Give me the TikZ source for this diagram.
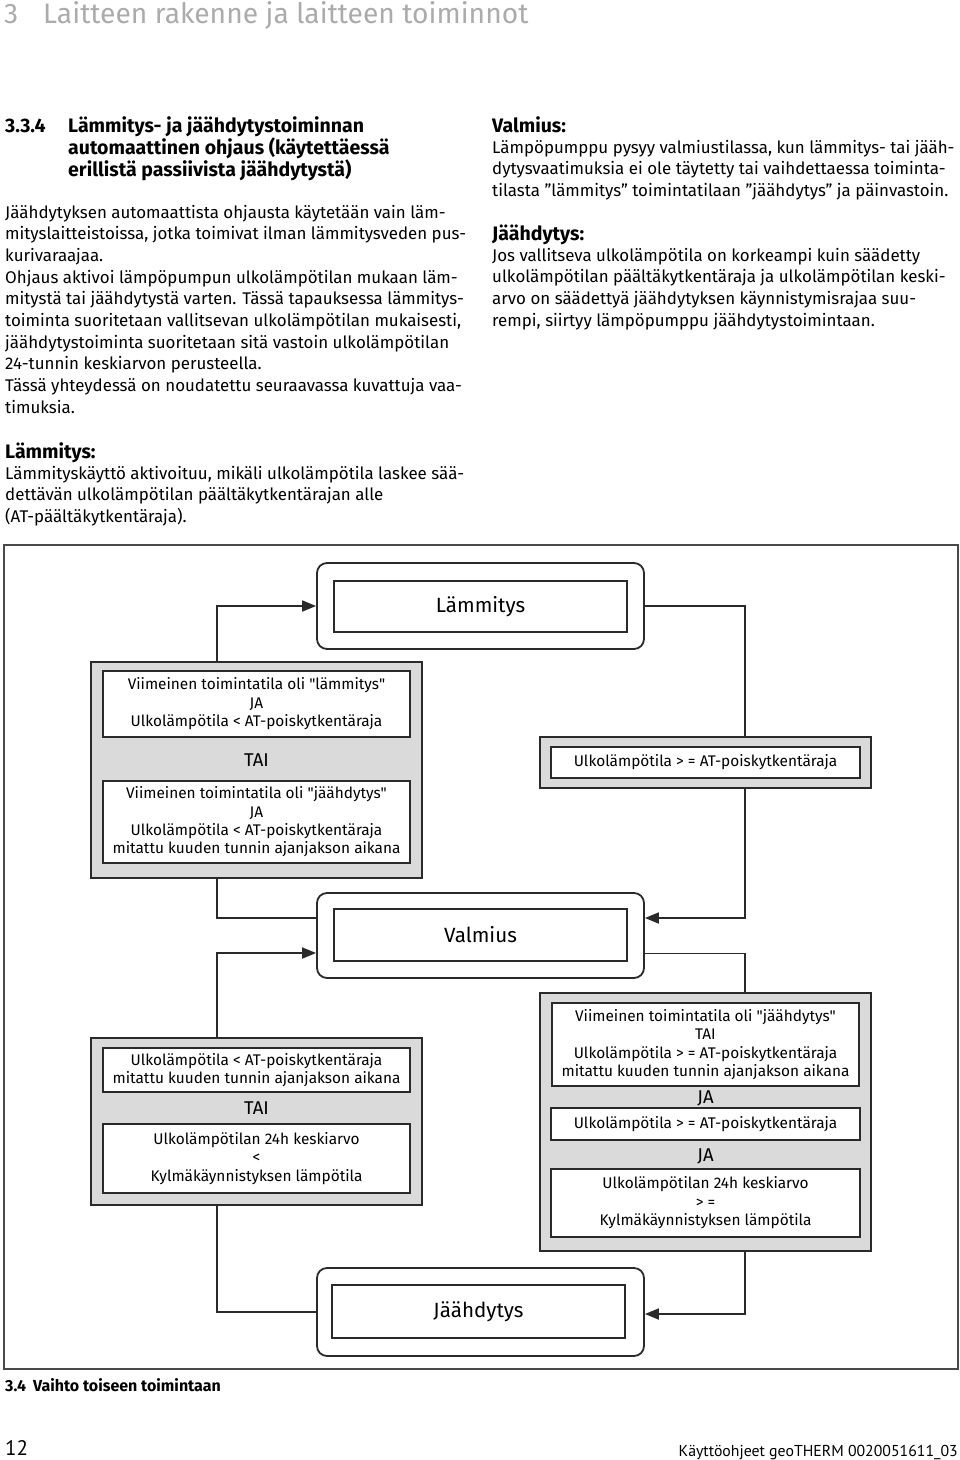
\documentclass[tikz,border=0pt]{standalone}
\usepackage{fontspec}
\setmainfont{Fira Sans}
\newfontfamily\ptsans{PT Sans}
\usetikzlibrary{arrows.meta,calc}
\definecolor{boxgray}{HTML}{DADADA}
\definecolor{linecol}{HTML}{2A2A2A}
\definecolor{titlegray}{HTML}{ABABAB}
\newcommand\qq{\textquotedbl}
\newcommand\textlines[6]{% style, prefix, x, y, skip, list
  \foreach \ln [count=\i] in {#6} {\node[anchor=base west, inner sep=0, #1] (#2\i) at (#3, {#4+(\i-1)*#5}) {\ln};}}
\begin{document}
\begin{tikzpicture}[x=1pt,y=-1pt,
  body/.style={font=\fontsize{16.9}{20}\selectfont},
  headb/.style={font=\fontsize{19.5}{22}\selectfont\bfseries},
  dtext/.style={font=\fontsize{15.4}{18.4}\selectfont},
  outerbox/.style={draw=linecol, line width=1.8pt, rounded corners=10pt, fill=white},
  innerbox/.style={draw=linecol, line width=1.8pt, fill=white, inner sep=0pt, align=center, font=\fontsize{20.6}{24}\selectfont},
  graybox/.style={draw=linecol, line width=1.8pt, fill=boxgray, inner sep=0pt},
  condbox/.style={draw=linecol, line width=1.8pt, fill=white, inner sep=0pt, align=center, dtext},
  joint/.style={font=\fontsize{18.5}{20}\selectfont, inner sep=0pt},
  conn/.style={draw=linecol, line width=1.8pt},
  arr/.style={conn, -{Triangle[length=14pt,width=11pt]}}]
\useasboundingbox (0,0) rectangle (960,1460);

% page header
\node[anchor=base west, inner sep=0, text=titlegray, font=\fontsize{28.2}{30}\selectfont] (titlenum) at (4,23) {3};
\node[anchor=base west, inner sep=0, text=titlegray, font=\fontsize{28.2}{30}\selectfont] (title) at (43,23) {Laitteen rakenne ja laitteen toiminnot};

\node[anchor=base west, inner sep=0, headb] (secnum) at (5,132) {3.3.4};
\textlines{headb}{h}{68}{132}{22}{{Lämmitys- ja jäähdytystoiminnan},{automaattinen ohjaus (käytettäessä},{erillistä passiivista jäähdytystä)}}

% left column
\textlines{body}{p}{5}{218}{21.7}{{Jäähdytyksen automaattista ohjausta käytetään vain läm-},{mityslaitteistoissa, jotka toimivat ilman lämmitysveden pus-},{kurivaraajaa.},{Ohjaus aktivoi lämpöpumpun ulkolämpötilan mukaan läm-},{mitystä tai jäähdytystä varten. Tässä tapauksessa lämmitys-},{toiminta suoritetaan vallitsevan ulkolämpötilan mukaisesti,},{jäähdytystoiminta suoritetaan sitä vastoin ulkolämpötilan},{24-tunnin keskiarvon perusteella.},{Tässä yhteydessä on noudatettu seuraavassa kuvattuja vaa-},{timuksia.}}
\node[anchor=base west, inner sep=0, headb] (lamhead) at (5,458) {Lämmitys:};
\textlines{body}{l}{5}{479}{21.7}{{Lämmityskäyttö aktivoituu, mikäli ulkolämpötila laskee sää-},{dettävän ulkolämpötilan päältäkytkentärajan alle},{(AT-päältäkytkentäraja).}}

% right column
\node[anchor=base west, inner sep=0, headb] (valhead) at (492,132) {Valmius:};
\textlines{body}{v}{492}{153}{21.7}{{Lämpöpumppu pysyy valmiustilassa, kun lämmitys- tai jääh-},{dytysvaatimuksia ei ole täytetty tai vaihdettaessa toiminta-},{tilasta ”lämmitys” toimintatilaan ”jäähdytys” ja päinvastoin.}}
\node[anchor=base west, inner sep=0, headb] (jaahead) at (492,240) {Jäähdytys:};
\textlines{body}{j}{492}{261}{21.7}{{Jos vallitseva ulkolämpötila on korkeampi kuin säädetty},{ulkolämpötilan päältäkytkentäraja ja ulkolämpötilan keski-},{arvo on säädettyä jäähdytyksen käynnistymisrajaa suu-},{rempi, siirtyy lämpöpumppu jäähdytystoimintaan.}}

% diagram frame
\draw[draw=linecol!85, line width=1.4pt] (4,545) rectangle (958,1369);

% coordinates of vertical connector runs
\coordinate (lx) at (217,0);
\coordinate (rx) at (745,0);

% state boxes
\node[outerbox, minimum width=327pt, minimum height=86pt] (heatO) at (480.5,606) {};
\node[innerbox, minimum width=293pt, minimum height=51pt] (heatI) at (480.5,606.5) {Lämmitys};
\node[outerbox, minimum width=327pt, minimum height=85pt] (valmO) at (480.5,935.5) {};
\node[innerbox, minimum width=293pt, minimum height=52pt] (valmI) at (480.5,935) {Valmius};
\node[outerbox, minimum width=327pt, minimum height=88pt] (coolO) at (480.5,1312) {};
\node[innerbox, minimum width=293pt, minimum height=53pt] (coolI) at (478.5,1311.5) {Jäähdytys};

% condition groups
\node[graybox, minimum width=331pt, minimum height=216pt] (g1) at (256.5,770) {};
\node[condbox, minimum width=307pt, minimum height=66pt] (b1) at (256.5,704) {Viimeinen toimintatila oli \qq lämmitys\qq\\JA\\Ulkolämpötila < AT-poiskytkentäraja};
\node[joint] (tai1) at (256.5,760) {TAI};
\node[condbox, minimum width=307pt, minimum height=82pt] (b2) at (256.5,822) {Viimeinen toimintatila oli \qq jäähdytys\qq\\JA\\Ulkolämpötila < AT-poiskytkentäraja\\mitattu kuuden tunnin ajanjakson aikana};

\node[graybox, minimum width=331pt, minimum height=51pt] (g2) at (705.5,762.5) {};
\node[condbox, minimum width=309pt, minimum height=31pt] (b3) at (705.5,762.5) {Ulkolämpötila > = AT-poiskytkentäraja};

\node[graybox, minimum width=331pt, minimum height=167pt] (g3) at (256.5,1121.5) {};
\node[condbox, minimum width=307pt, minimum height=44pt] (b4) at (256.5,1070) {Ulkolämpötila < AT-poiskytkentäraja\\mitattu kuuden tunnin ajanjakson aikana};
\node[joint] (tai2) at (256.5,1108) {TAI};
\node[condbox, minimum width=307pt, minimum height=69pt] (b5) at (256.5,1158.5) {Ulkolämpötilan 24h keskiarvo\\<\\Kylmäkäynnistyksen lämpötila};

\node[graybox, minimum width=331pt, minimum height=258pt] (g4) at (705.5,1122) {};
\node[condbox, minimum width=307pt, minimum height=83pt] (b6) at (705.5,1044.5) {Viimeinen toimintatila oli \qq jäähdytys\qq\\TAI\\Ulkolämpötila > = AT-poiskytkentäraja\\mitattu kuuden tunnin ajanjakson aikana};
\node[joint] (ja1) at (705.5,1098) {JA};
\node[condbox, minimum width=309pt, minimum height=32pt] (b7) at (705.5,1124) {Ulkolämpötila > = AT-poiskytkentäraja};
\node[joint] (ja2) at (705.5,1156) {JA};
\node[condbox, minimum width=309pt, minimum height=68pt] (b8) at (705.5,1203) {Ulkolämpötilan 24h keskiarvo\\> =\\Kylmäkäynnistyksen lämpötila};

% connectors
\draw[arr] (g1.north -| lx) |- (heatO.west);
\draw[conn] (heatO.east) -| (rx |- g2.north);
\draw[arr] (g2.south -| rx) |- ([yshift=17.5pt]valmO.east);
\draw[conn] (g1.south -| lx) |- ([yshift=17.5pt]valmO.west);
\draw[arr] (g3.north -| lx) |- ([yshift=-17.5pt]valmO.west);
\draw[conn] ([yshift=-18pt]valmO.east) -| (rx |- g4.north);
\draw[arr] (g4.south -| rx) |- ([yshift=-2pt]coolO.east);
\draw[conn] (g3.south -| lx) |- (coolO.west);

% caption and footer
\node[anchor=base west, inner sep=0, font=\fontsize{16}{17}\selectfont\bfseries] (caption) at (5,1391) {3.4\hspace{7pt}Vaihto toiseen toimintaan};
\node[anchor=base west, inner sep=0, font=\ptsans\fontsize{21}{24}\selectfont] (pageno) at (5,1455) {12};
\node[anchor=base east, inner sep=0, font=\ptsans\fontsize{15.8}{20}\selectfont] (footer) at (958,1456) {Käyttöohjeet geoTHERM 0020051611\_03};
\end{tikzpicture}
\end{document}
